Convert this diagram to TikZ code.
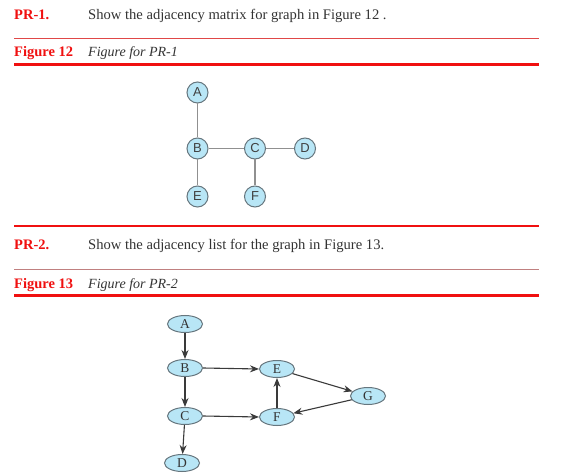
\documentclass[tikz,border=0pt]{standalone}
\usepackage{fontspec}
\setmainfont{Liberation Serif}
\newfontfamily\arialf{Liberation Sans}
\usetikzlibrary{shapes.geometric,arrows.meta}
\definecolor{hred}{HTML}{F01010}
\definecolor{thinred}{HTML}{E04848}
\definecolor{thinbrown}{HTML}{C08080}
\definecolor{nodefill}{HTML}{B8E6F6}
\definecolor{nodeedge}{HTML}{66767E}
\definecolor{edgegray}{HTML}{909090}
\definecolor{arrowgray}{HTML}{3A3A3A}
\tikzset{
  label/.style={anchor=base west, inner sep=0pt, font=\fontsize{14.5}{16}\selectfont\bfseries, text=hred},
  body/.style={anchor=base west, inner sep=0pt, font=\fontsize{14.6}{16}\selectfont, text=black!80},
  caption/.style={anchor=base west, inner sep=0pt, font=\fontsize{14}{16}\selectfont\itshape, text=black!80},
  thinrule/.style={line width=1pt},
  thickrule/.style={hred, line width=2.8pt},
  cnode/.style={circle, draw=nodeedge, fill=nodefill, line width=1pt, minimum size=21pt, inner sep=0pt, font=\arialf\fontsize{13}{14}\selectfont, text=black!75},
  enode/.style={ellipse, draw=nodeedge, fill=nodefill, line width=1pt, minimum width=35pt, minimum height=17pt, inner sep=0pt, font=\fontsize{13.5}{14}\selectfont, text=black!80},
  uedge/.style={draw=edgegray, line width=1.1pt},
  dedge/.style={draw=arrowgray, line width=1.1pt, -{Stealth[length=9pt,width=7pt]}}
}
\begin{document}
\begin{tikzpicture}[x=1pt,y=-1pt]
\useasboundingbox (0,0) rectangle (587,476);
\fill[white] (0,0) rectangle (587,476);
% PR-1 header
\node[label] (pr1) at (14,20) {PR-1.};
\node[body] (pr1t) at (88,20) {Show the adjacency matrix for graph in Figure 12 .};
\coordinate (r1a) at (14,38.5); \coordinate (r1b) at (539,38.5);
\draw[thinrule, thinred] (r1a) -- (r1b);
\node[label] (f12) at (14,57) {Figure 12};
\node[caption] (f12t) at (88,57) {Figure for PR-1};
\coordinate (r2a) at (14,64.5); \coordinate (r2b) at (539,64.5);
\draw[thickrule] (r2a) -- (r2b);
% Graph 1
\node[cnode] (A1) at (197.5,92.5) {A};
\node[cnode] (B1) at (197.5,148.5) {B};
\node[cnode] (C1) at (255,148.5) {C};
\node[cnode] (D1) at (305,148.5) {D};
\node[cnode] (E1) at (197.5,196.5) {E};
\node[cnode] (F1) at (255,196.5) {F};
\draw[uedge] (A1) -- (B1);
\draw[uedge] (B1) -- (C1);
\draw[uedge] (C1) -- (D1);
\draw[uedge] (B1) -- (E1);
\draw[uedge] (C1) -- (F1);
% rule
\coordinate (r3a) at (14,226); \coordinate (r3b) at (539,226);
\draw[thickrule] (r3a) -- (r3b);
% PR-2 header
\node[label] (pr2) at (14,250) {PR-2.};
\node[body] (pr2t) at (88,250) {Show the adjacency list for the graph in Figure 13.};
\coordinate (r4a) at (14,269); \coordinate (r4b) at (539,269);
\draw[thinrule, thinbrown] (r4a) -- (r4b);
\node[label] (f13) at (14,288) {Figure 13};
\node[caption] (f13t) at (88,288) {Figure for PR-2};
\coordinate (r5a) at (14,295.5); \coordinate (r5b) at (539,295.5);
\draw[thickrule] (r5a) -- (r5b);
% Graph 2
\node[enode] (A2) at (185,324) {A};
\node[enode] (B2) at (185,368) {B};
\node[enode] (C2) at (185,416) {C};
\node[enode] (D2) at (182,463) {D};
\node[enode] (E2) at (277,369) {E};
\node[enode] (F2) at (277,417) {F};
\node[enode] (G2) at (368,396) {G};
\draw[dedge] (A2) -- (B2);
\draw[dedge] (B2) -- (C2);
\draw[dedge] (C2) -- (D2);
\draw[dedge] (B2.east) -- (E2.west);
\draw[dedge] (C2.east) -- (F2.west);
\draw[dedge] (F2) -- (E2);
\draw[dedge] (E2) -- (G2);
\draw[dedge] (G2) -- (F2);
\end{tikzpicture}
\end{document}
